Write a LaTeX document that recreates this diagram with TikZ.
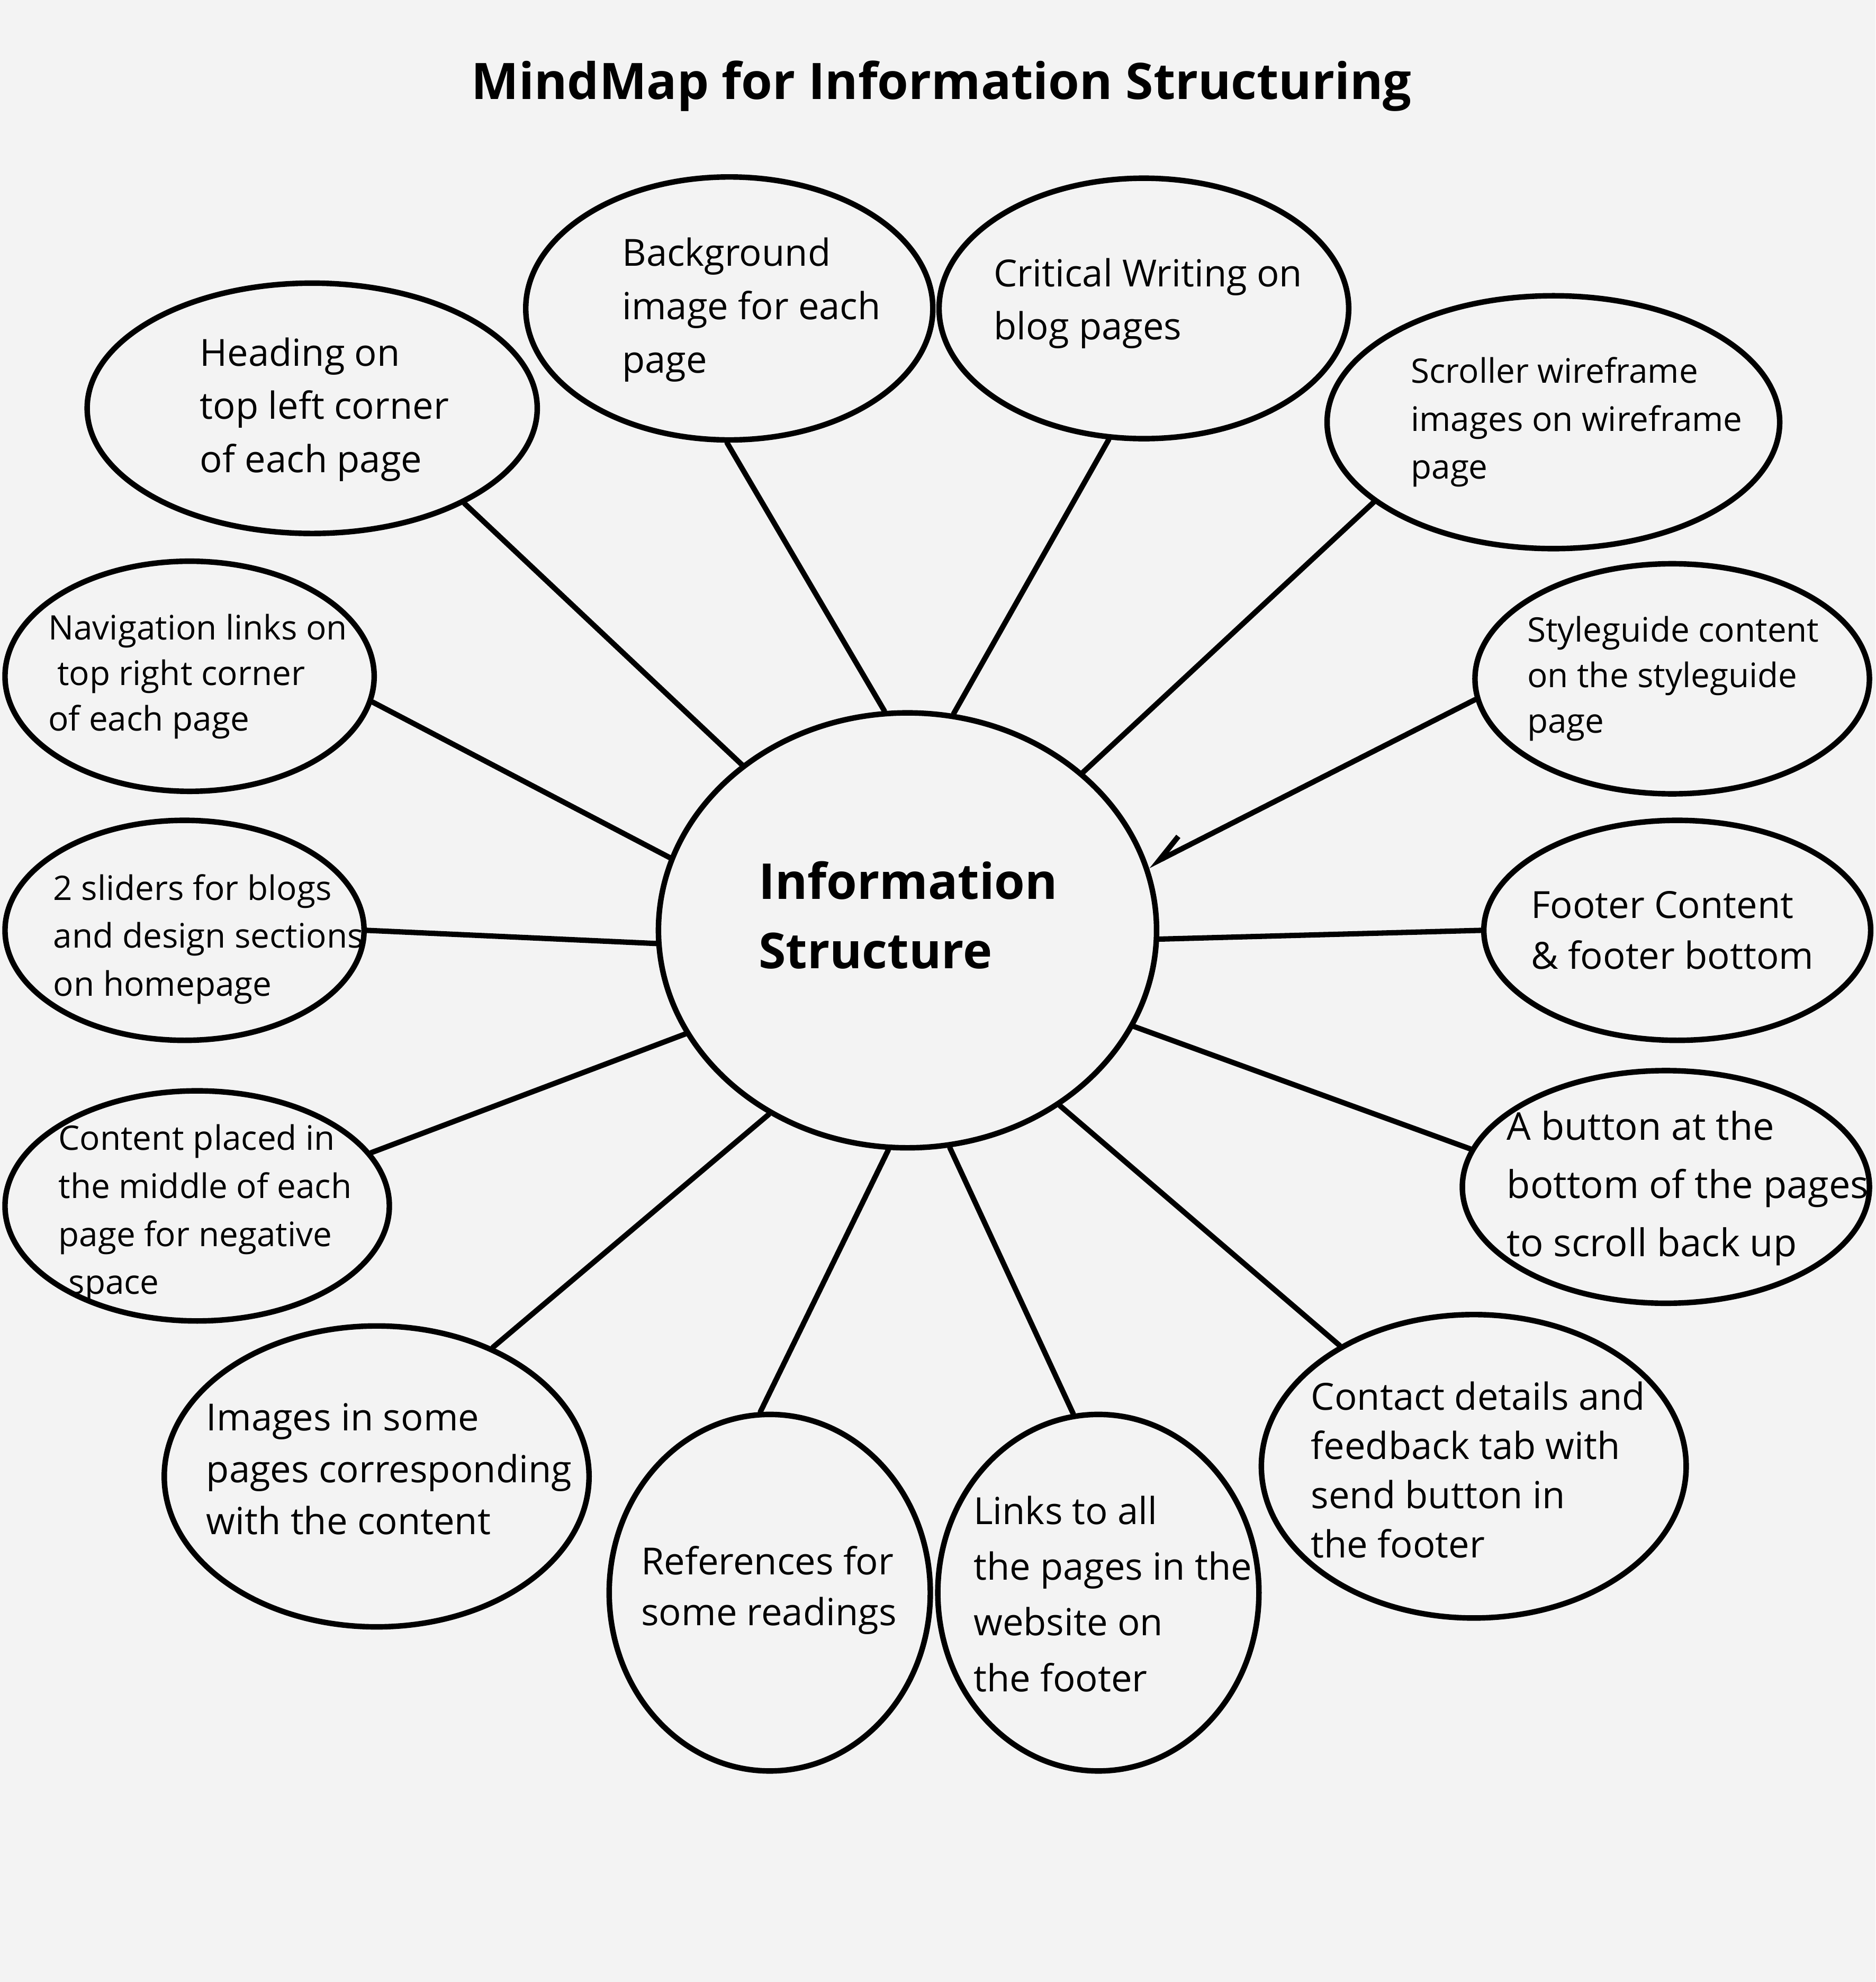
\documentclass[tikz,border=0pt]{standalone}
\usepackage{fontspec}
\setmainfont{Open Sans}
\usetikzlibrary{shapes.geometric,arrows.meta}
\definecolor{bgc}{HTML}{F3F3F3}
\begin{document}
\begin{tikzpicture}[x=0.025cm,y=-0.025cm,
 bubble/.style={draw=black,line width=3.1pt,ellipse,inner sep=0pt},
 link/.style={line width=3pt,line cap=round},
 txt/.style={anchor=west,align=left,inner sep=0pt},
 fs/.style 2 args={font=\fontsize{#1}{#2}\selectfont}
]
\fill[bgc] (0,0) rectangle (1484,1568);
\useasboundingbox (0,0) rectangle (1484,1568);

% title
\node[inner sep=0pt,font=\bfseries\fontsize{28.3}{34}\selectfont] (title) at (745,68) {MindMap for Information Structuring};

% bubbles
\node[bubble,minimum width=9.85cm,minimum height=8.6cm] (c) at (718,736) {};
\node[bubble,minimum width=8.9cm,minimum height=4.95cm] (hd) at (247,323) {};
\node[bubble,minimum width=8.05cm,minimum height=5.2cm] (bg) at (577,244) {};
\node[bubble,minimum width=8.1cm,minimum height=5.15cm] (cr) at (905,244) {};
\node[bubble,minimum width=8.95cm,minimum height=5.0cm] (sc) at (1229,334) {};
\node[bubble,minimum width=7.3cm,minimum height=4.55cm] (nv) at (150,535) {};
\node[bubble,minimum width=7.8cm,minimum height=4.55cm] (sg) at (1323,537) {};
\node[bubble,minimum width=7.1cm,minimum height=4.35cm] (sl) at (146,736) {};
\node[bubble,minimum width=7.65cm,minimum height=4.35cm] (ft) at (1327,736) {};
\node[bubble,minimum width=7.6cm,minimum height=4.55cm] (cp) at (156,954) {};
\node[bubble,minimum width=8.05cm,minimum height=4.6cm] (bt) at (1318,939) {};
\node[bubble,minimum width=8.4cm,minimum height=5.95cm] (im) at (298,1168) {};
\node[bubble,minimum width=6.35cm,minimum height=7.05cm] (rf) at (609,1260) {};
\node[bubble,minimum width=6.35cm,minimum height=7.05cm] (lk) at (869,1260) {};
\node[bubble,minimum width=8.4cm,minimum height=6.0cm] (ct) at (1166,1160) {};

% texts
\node[txt,font=\bfseries\fontsize{27.8}{39}\selectfont] (tc) at (600,724) {Information\\Structure};
\node[txt,fs={21}{30}] (thd) at (158,324) {Heading on\\top left corner\\of each page};
\node[txt,fs={21}{30}] (tbg) at (492,245) {Background\\image for each\\page};
\node[txt,fs={21}{30}] (tcr) at (786,240) {Critical Writing on\\blog pages};
\node[txt,fs={19}{27}] (tsc) at (1116,334) {Scroller wireframe\\images on wireframe\\page};
\node[txt,fs={19}{25.6}] (tnv) at (38,535) {Navigation links on\\\hspace*{0.175cm}top right corner\\of each page};
\node[txt,fs={19}{25.6}] (tsg) at (1208,537) {Styleguide content\\on the styleguide\\page};
\node[txt,fs={19}{27}] (tsl) at (42,743) {2 sliders for blogs\\and design sections\\on homepage};
\node[txt,fs={21}{28.4}] (tft) at (1211,736) {Footer Content\\\& footer bottom};
\node[txt,fs={19}{27}] (tcp) at (46,960) {Content placed in\\the middle of each\\page for negative\\\hspace*{0.2cm}space};
\node[txt,fs={21.5}{32.7}] (tbt) at (1192,940) {A button at the\\bottom of the pages\\to scroll back up};
\node[txt,fs={21}{29.2}] (tim) at (163,1162) {Images in some\\pages corresponding\\with the content};
\node[txt,fs={21}{28.4}] (trf) at (507,1258) {References for\\some readings};
\node[txt,fs={21}{31.3}] (tlk) at (770,1261) {Links to all\\the pages in the\\website on\\the footer};
\node[txt,fs={21}{27.7}] (tct) at (1037,1163) {Contact details and\\feedback tab with\\send button in\\the footer};

% connectors
\draw[link] (hd.-32.5) -- (c.135.4);
\draw[link] (bg.-91.6) -- (c.96.9);
\draw[link] (cr.-105.4) -- (c.78.9);
\draw[link] (sc.-156) -- (c.42);
\draw[link] (nv.-8.9) -- (c.163.4);
\draw[link,-{Straight Barb[harpoon,swap,length=0.55cm,width=0.5cm,line width=3pt]}] (sg.-174.2) -- (c.15.2);
\draw[link] (sl.0) -- (c.-177.4);
\draw[link] (ft.180) -- (c.-2.6);
\draw[link] (cp.17.6) -- (c.-155.1);
\draw[link] (bt.169.9) -- (c.-23.8);
\draw[link] (im.48.1) -- (c.-127.2);
\draw[link] (rf.93.2) -- (c.-95.8);
\draw[link] (lk.98.4) -- (c.-79.8);
\draw[link] (ct.138) -- (c.-49.8);
\end{tikzpicture}
\end{document}
